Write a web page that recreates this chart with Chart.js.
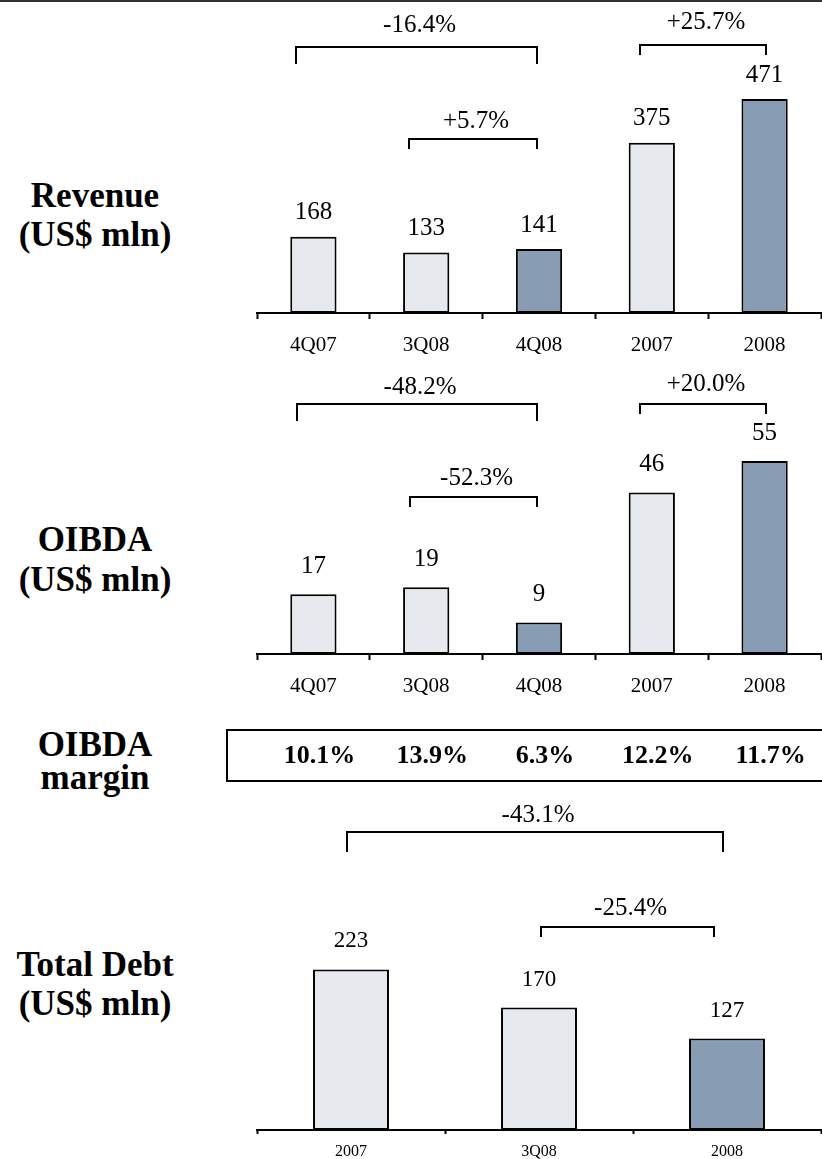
<!DOCTYPE html>
<html>
<head>
<meta charset="utf-8">
<title>Key financials</title>
<script src="https://cdn.jsdelivr.net/npm/chart.js@4.4.0/dist/chart.umd.min.js"></script>
<style>
  html, body { margin: 0; padding: 0; background: #fff; }
  #page { position: relative; width: 822px; height: 1159px; overflow: hidden; font-family: 'Liberation Serif', 'Times New Roman', serif; }
  #rule { position: absolute; left: 0; top: 0; width: 822px; height: 2px; background: #333; }
  .side { position: absolute; left: 0; width: 190px; text-align: center; font-weight: bold; font-size: 35px; line-height: 35px; color: #000; white-space: nowrap; }
  canvas { position: absolute; left: 220px; }
</style>
</head>
<body>
<div id="page">
  <div id="rule"></div>

  <div class="side" style="top:178px">Revenue</div>
  <div class="side" style="top:217px">(US$ mln)</div>
  <div class="side" style="top:522px">OIBDA</div>
  <div class="side" style="top:562px">(US$ mln)</div>
  <div class="side" style="top:727px">OIBDA</div>
  <div class="side" style="top:760px">margin</div>
  <div class="side" style="top:947px">Total Debt</div>
  <div class="side" style="top:986px">(US$ mln)</div>

  <canvas id="revenueChart" width="602" height="370" style="top:0px"></canvas>
  <canvas id="oibdaChart" width="602" height="440" style="top:360px"></canvas>
  <canvas id="debtChart" width="602" height="379" style="top:780px"></canvas>
</div>

<script>
// ---- data ----
const periods = ['4Q07', '3Q08', '4Q08', '2007', '2008'];
const revenue = [168, 133, 141, 375, 471];
const oibda = [17, 19, 9, 46, 55];
const oibdaMargin = [10.1, 13.9, 6.3, 12.2, 11.7];
const highlight = [false, false, true, false, true];

const debtPeriods = ['2007', '3Q08', '2008'];
const totalDebt = [223, 170, 127];
const debtHighlight = [false, false, true];

// change brackets: [from index, to index, text]
const revenueChanges = [[0, 2, '-16.4%'], [1, 2, '+5.7%'], [3, 4, '+25.7%']];
const oibdaChanges = [[0, 2, '-48.2%'], [1, 2, '-52.3%'], [3, 4, '+20.0%']];
const debtChanges = [[0, 2, '-43.1%'], [1, 2, '-25.4%']];

// ---- look ----
const SERIF = "'Liberation Serif', 'Times New Roman', serif";
const LIGHT = '#E6E9EE';
const DARK = '#889DB3';

// bracket placement, px from canvas top / px from bar centre
const revenueBrackets = [
  { y: 47, drop: 17, dx1: -17, dx2: -2, textY: 25 },
  { y: 139, drop: 10, dx1: -17, dx2: -2, textY: 121 },
  { y: 45, drop: 10, dx1: -12, dx2: 1, textY: 22 }
];
const oibdaBrackets = [
  { y: 44, drop: 17, dx1: -16, dx2: -2, textY: 27 },
  { y: 137, drop: 10, dx1: -16, dx2: -2, textY: 118 },
  { y: 44, drop: 10, dx1: -12, dx2: 1, textY: 24 }
];
const debtBrackets = [
  { y: 52, drop: 20, dx1: -4, dx2: -4, textY: 35 },
  { y: 147, drop: 10, dx1: 2, dx2: -13, textY: 128 }
];

const annotate = {
  id: 'annotate',
  afterDatasetsDraw(chart, args, o) {
    const ctx = chart.ctx;
    const xs = chart.scales.x;
    const values = chart.data.datasets[0].data;
    ctx.save();
    ctx.fillStyle = '#000';
    ctx.strokeStyle = '#000';
    ctx.textAlign = 'center';
    ctx.textBaseline = 'middle';

    // value above each bar
    ctx.font = o.valueSize + 'px ' + SERIF;
    chart.getDatasetMeta(0).data.forEach((bar, i) => {
      ctx.fillText(String(values[i]), bar.x, bar.y - o.valueGap);
    });

    // growth brackets
    ctx.lineWidth = 2;
    ctx.font = o.changeSize + 'px ' + SERIF;
    o.changes.forEach((c, i) => {
      const s = o.brackets[i];
      const x1 = Math.round(xs.getPixelForValue(c[0]) + s.dx1);
      const x2 = Math.round(xs.getPixelForValue(c[1]) + s.dx2);
      ctx.beginPath();
      ctx.moveTo(x1, s.y + s.drop);
      ctx.lineTo(x1, s.y);
      ctx.lineTo(x2, s.y);
      ctx.lineTo(x2, s.y + s.drop);
      ctx.stroke();
      ctx.fillText(c[2], (x1 + x2) / 2 + 3, s.textY);
    });

    // margin row under the OIBDA axis (open on the right, runs off the page)
    if (o.margin) {
      const m = o.margin;
      ctx.lineWidth = 2;
      ctx.strokeRect(m.left, m.top, m.right - m.left, m.bottom - m.top);
      ctx.font = 'bold 26px ' + SERIF;
      m.values.forEach((v, i) => {
        ctx.fillText(v.toFixed(1) + '%', xs.getPixelForValue(i) + 6, (m.top + m.bottom) / 2 + 1);
      });
    }
    ctx.restore();
  }
};

function barChart(id, labels, values, dark, cfg) {
  return new Chart(document.getElementById(id), {
    type: 'bar',
    data: {
      labels: labels,
      datasets: [{
        data: values,
        backgroundColor: dark.map(d => d ? DARK : LIGHT),
        borderColor: '#000',
        borderWidth: 2,
        borderSkipped: false,
        categoryPercentage: 1,
        barPercentage: cfg.barPct
      }]
    },
    options: {
      responsive: false,
      devicePixelRatio: 1,
      animation: false,
      layout: { padding: { left: 37, right: 1, top: 0, bottom: cfg.padBottom || 0 } },
      plugins: {
        legend: { display: false },
        tooltip: { enabled: false },
        annotate: cfg.annotate
      },
      scales: {
        x: {
          offset: true,
          grid: {
            offset: true,
            drawOnChartArea: false,
            drawTicks: true,
            tickLength: cfg.tickLength,
            tickWidth: 2,
            tickColor: '#000'
          },
          border: { display: true, color: '#000', width: 2 },
          ticks: {
            color: '#000',
            font: { family: SERIF, size: cfg.labelSize },
            padding: cfg.labelPad,
            maxRotation: 0,
            autoSkip: false
          },
          afterFit(s) { s.height = cfg.axisHeight; }
        },
        y: { display: false, min: 0, max: cfg.yMax }
      }
    },
    plugins: [annotate]
  });
}

barChart('revenueChart', periods, revenue, highlight, {
  barPct: 0.41, yMax: 689, axisHeight: 57, tickLength: 6, labelSize: 21, labelPad: 14,
  annotate: { valueSize: 25, valueGap: 24, changeSize: 25, changes: revenueChanges, brackets: revenueBrackets }
});

barChart('oibdaChart', periods, oibda, highlight, {
  barPct: 0.41, yMax: 83.8, axisHeight: 60, padBottom: 86, tickLength: 6, labelSize: 21, labelPad: 14,
  annotate: {
    valueSize: 25, valueGap: 28, changeSize: 25, changes: oibdaChanges, brackets: oibdaBrackets,
    margin: { values: oibdaMargin, left: 7, right: 620, top: 370, bottom: 421 }
  }
});

barChart('debtChart', debtPeriods, totalDebt, debtHighlight, {
  barPct: 0.404, yMax: 486, axisHeight: 29, tickLength: 4, labelSize: 16, labelPad: 8,
  annotate: { valueSize: 23, valueGap: 28, changeSize: 25, changes: debtChanges, brackets: debtBrackets }
});
</script>
</body>
</html>
